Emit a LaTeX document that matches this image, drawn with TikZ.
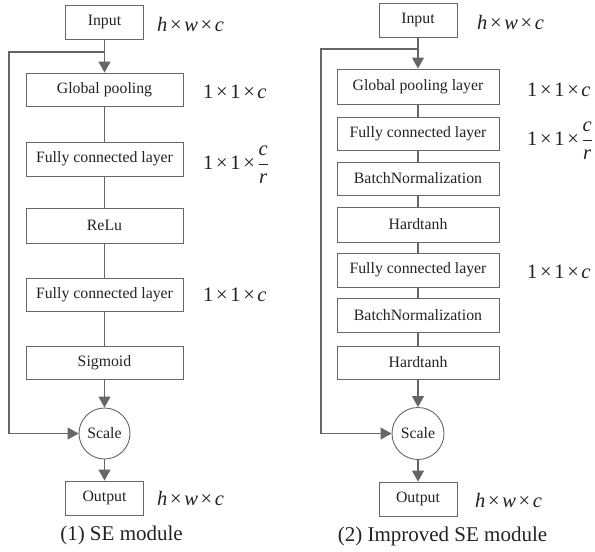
\documentclass[tikz,border=0pt]{standalone}
\usepackage{fontspec}
\setmainfont{Liberation Serif}
\usetikzlibrary{arrows.meta}
\definecolor{ln}{HTML}{666666}
\definecolor{tx}{HTML}{222222}
\newcommand{\tm}{\hspace{0.13em}×\hspace{0.13em}}
\begin{document}
\begin{tikzpicture}[x=1pt,y=-1pt,
  box/.style={draw=ln,line width=0.9pt,rectangle,inner sep=0pt,text=tx,
    font=\fontsize{15.8}{18}\selectfont},
  wbox/.style={box,minimum width=157pt},
  rbox/.style={box,minimum width=162pt},
  iobox/.style={box,minimum width=78pt,minimum height=34pt},
  circ/.style={draw=ln,line width=0.9pt,circle,inner sep=0pt,text=tx,
    font=\fontsize{15.8}{18}\selectfont},
  lbl/.style={anchor=west,inner sep=0pt,text=tx,font=\fontsize{20.5}{24}\selectfont},
  captxt/.style={inner sep=0pt,text=tx,font=\fontsize{21}{25}\selectfont},
  con/.style={draw=ln,line width=1.1pt},
  arr/.style={con,-{Triangle[length=11pt,width=12pt]}}]
\useasboundingbox (0,0) rectangle (595,552);
% ---------- left: SE module ----------
\node[iobox] (in1) at (104.5,22.5) {Input};
\node[wbox,minimum height=33pt] (gp1) at (104.5,89.5) {Global pooling};
\node[wbox,minimum height=34pt] (fc1) at (104.5,159) {Fully connected layer};
\node[wbox,minimum height=35pt] (relu) at (104.5,225.5) {ReLu};
\node[wbox,minimum height=33pt] (fc2) at (104.5,294.5) {Fully connected layer};
\node[wbox,minimum height=33pt] (sig) at (104.5,362.5) {Sigmoid};
\node[circ,minimum size=51pt] (sc1) at (104.5,433.5) {Scale};
\node[iobox] (out1) at (104.5,498) {Output};
\coordinate (b1) at (104.5,52);
\coordinate (l1) at (9,52);
\draw[arr] (in1.south) -- (gp1.north);
\draw[con] (gp1) -- (fc1);
\draw[con] (fc1) -- (relu);
\draw[con] (relu) -- (fc2);
\draw[con] (fc2) -- (sig);
\draw[arr] (sig.south) -- (sc1.north);
\draw[arr] (sc1.south) -- (out1.north);
\draw[arr] (b1) -- (l1) |- (sc1.west);
\node[lbl] (d1) at (157,24) {\textit{h}\tm\textit{w}\tm\textit{c}};
\node[lbl] (d2) at (203,92) {1\tm1\tm\textit{c}};
\node[lbl] (d3) at (203,165) {1\tm1\tm$\displaystyle\frac{\hbox{\itshape c}}{\hbox{\itshape r}}$};
\node[lbl] (d4) at (203,295) {1\tm1\tm\textit{c}};
\node[lbl] (d5) at (157,498) {\textit{h}\tm\textit{w}\tm\textit{c}};
\node[captxt] (c1) at (121.5,535) {(1) SE module};
% ---------- right: Improved SE module ----------
\node[iobox] (in2) at (418,20) {Input};
\node[rbox,minimum height=35pt] (gp2) at (418,86.5) {Global pooling layer};
\node[rbox,minimum height=33pt] (fcA) at (418,133.5) {Fully connected layer};
\node[rbox,minimum height=33pt] (bnA) at (418,178.5) {BatchNormalization};
\node[rbox,minimum height=35pt] (htA) at (418,224.5) {Hardtanh};
\node[rbox,minimum height=34pt] (fcB) at (418,270) {Fully connected layer};
\node[rbox,minimum height=34pt] (bnB) at (418,315) {BatchNormalization};
\node[rbox,minimum height=33pt] (htB) at (418,362.5) {Hardtanh};
\node[circ,minimum size=52pt] (sc2) at (418,433.5) {Scale};
\node[iobox] (out2) at (418,499) {Output};
\coordinate (b2) at (418,49);
\coordinate (l2) at (321,49);
\draw[arr] (in2.south) -- (gp2.north);
\draw[con] (gp2) -- (fcA);
\draw[con] (fcA) -- (bnA);
\draw[con] (bnA) -- (htA);
\draw[con] (htA) -- (fcB);
\draw[con] (fcB) -- (bnB);
\draw[con] (bnB) -- (htB);
\draw[arr] (htB.south) -- (sc2.north);
\draw[arr] (sc2.south) -- (out2.north);
\draw[arr] (b2) -- (l2) |- (sc2.west);
\node[lbl] (e1) at (477,22) {\textit{h}\tm\textit{w}\tm\textit{c}};
\node[lbl] (e2) at (527,90) {1\tm1\tm\textit{c}};
\node[lbl] (e3) at (527,141) {1\tm1\tm$\displaystyle\frac{\hbox{\itshape c}}{\hbox{\itshape r}}$};
\node[lbl] (e4) at (527,272) {1\tm1\tm\textit{c}};
\node[lbl] (e5) at (475,500) {\textit{h}\tm\textit{w}\tm\textit{c}};
\node[captxt] (c2) at (442.5,536) {(2) Improved SE module};
\end{tikzpicture}
\end{document}
